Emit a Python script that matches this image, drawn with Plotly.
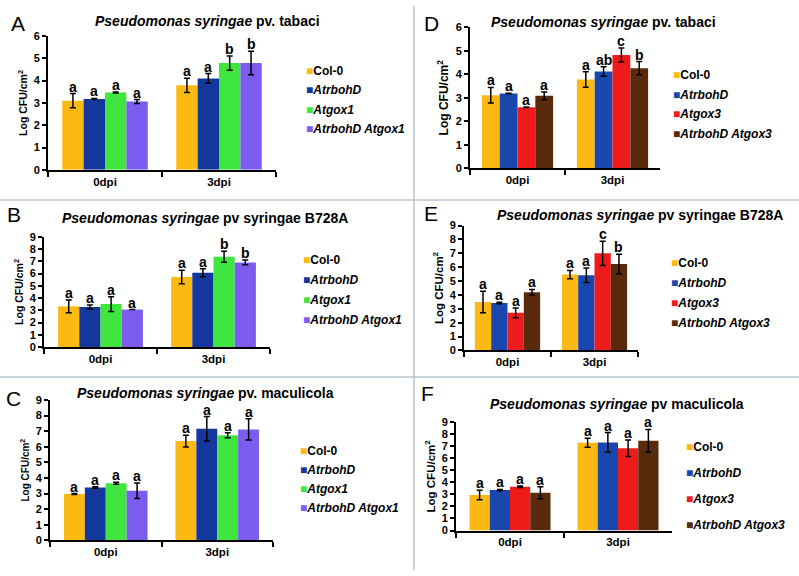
import plotly.graph_objects as go

W, H = 799, 576
FONT = "Liberation Sans, Arial, sans-serif"

categories = ["0dpi", "3dpi"]
gox1_lines = ["Col-0", "AtrbohD", "Atgox1", "AtrbohD Atgox1"]
gox3_lines = ["Col-0", "AtrbohD", "Atgox3", "AtrbohD Atgox3"]
gox1_colors = ["#FDB913", "#14379E", "#3FE63F", "#7B5CEF"]
gox3_colors = ["#FDB913", "#1A47AD", "#EE1B1B", "#5A2A0C"]

# rows = genotype, columns = [0dpi, 3dpi]
A_mean = [[3.10, 3.79], [3.18, 4.10], [3.47, 4.79], [3.06, 4.79]]
A_err = [[0.32, 0.32], [0.02, 0.22], [0.02, 0.32], [0.09, 0.53]]
A_letters = [["a", "a"], ["a", "a"], ["a", "b"], ["a", "b"]]

B_mean = [[3.32, 5.72], [3.27, 6.06], [3.51, 7.37], [3.06, 6.91]]
B_err = [[0.53, 0.55], [0.17, 0.33], [0.60, 0.44], [0.00, 0.20]]
B_letters = [["a", "a"], ["a", "a"], ["a", "b"], ["a", "b"]]

C_mean = [[2.97, 6.36], [3.39, 7.15], [3.66, 6.74], [3.18, 7.11]]
C_err = [[0.03, 0.37], [0.05, 0.78], [0.06, 0.16], [0.50, 0.68]]
C_letters = [["a", "a"], ["a", "a"], ["a", "a"], ["a", "a"]]

D_mean = [[3.11, 3.78], [3.18, 4.12], [2.60, 4.82], [3.08, 4.26]]
D_err = [[0.33, 0.33], [0.01, 0.20], [0.01, 0.30], [0.16, 0.28]]
D_letters = [["a", "a"], ["a", "ab"], ["a", "c"], ["a", "b"]]

E_mean = [[3.49, 5.47], [3.42, 5.42], [2.71, 7.00], [4.20, 6.23]]
E_err = [[0.77, 0.30], [0.05, 0.53], [0.35, 0.88], [0.20, 0.70]]
E_letters = [["a", "a"], ["a", "a"], ["a", "c"], ["a", "b"]]

F_mean = [[2.95, 7.29], [3.36, 7.32], [3.63, 6.83], [3.14, 7.45]]
F_err = [[0.40, 0.38], [0.05, 0.82], [0.06, 0.68], [0.50, 0.95]]
F_letters = [["a", "a"], ["a", "a"], ["a", "a"], ["a", "a"]]

titles = {
    "A": "<b><i>Pseudomonas syringae</i></b><b> pv. tabaci</b>",
    "B": "<b><i>Pseudomonas syringae</i></b><b> pv syringae B728A</b>",
    "C": "<b><i>Pseudomonas syringae</i></b><b> pv. maculicola</b>",
    "D": "<b><i>Pseudomonas syringae</i></b><b> pv. tabaci</b>",
    "E": "<b><i>Pseudomonas syringae</i></b><b> pv syringae B728A</b>",
    "F": "<b><i>Pseudomonas syringae</i></b><b> pv maculicola</b>",
}

BARGAP = 0.25

# layout in pixels: plot x0,x1, y of value 0, y of ymax, ymax,
# legend swatch-left x, first legend row y, row spacing,
# title centre, panel letter centre, y-title font size
panels = [
    dict(key="A", lines=gox1_lines, colors=gox1_colors, mean=A_mean, err=A_err, let=A_letters,
         x0=48, x1=276, yb=167.3, yt=30.7, ymax=6, leg=(308, 65, 19.3), tpos=(207, 15), lpos=(17.5, 16), yts=10.5),
    dict(key="B", lines=gox1_lines, colors=gox1_colors, mean=B_mean, err=B_err, let=B_letters,
         x0=44, x1=270, yb=348.3, yt=235.7, ymax=9, leg=(305, 258, 20), tpos=(205, 216), lpos=(13.5, 210.5), yts=10.5),
    dict(key="C", lines=gox1_lines, colors=gox1_colors, mean=C_mean, err=C_err, let=C_letters,
         x0=50, x1=273, yb=545.7, yt=402.3, ymax=9, leg=(302, 453, 16.7), tpos=(205, 395.5), lpos=(13.5, 399), yts=10),
    dict(key="D", lines=gox3_lines, colors=gox3_colors, mean=D_mean, err=D_err, let=D_letters,
         x0=470, x1=660, yb=165.7, yt=21.7, ymax=6, leg=(675, 69, 19.7), tpos=(603, 16), lpos=(431, 15.5), yts=12),
    dict(key="E", lines=gox3_lines, colors=gox3_colors, mean=E_mean, err=E_err, let=E_letters,
         x0=464, x1=638, yb=351.7, yt=224.3, ymax=9, leg=(673, 261, 20), tpos=(640, 213), lpos=(430.5, 210), yts=11.5),
    dict(key="F", lines=gox3_lines, colors=gox3_colors, mean=F_mean, err=F_err, let=F_letters,
         x0=456, x1=672, yb=535.7, yt=425, ymax=9, leg=(688, 449, 26), tpos=(617, 406), lpos=(427, 394), yts=11.5),
]


def px(x):
    return x / W


def py(y):
    return 1 - y / H


fig = go.Figure()
layout = dict(
    width=W, height=H, margin=dict(l=0, r=0, t=0, b=0),
    paper_bgcolor="white", plot_bgcolor="white",
    barmode="group", bargap=BARGAP, bargroupgap=0,
    font=dict(family=FONT, color="black", size=12),
    showlegend=True,
)
annotations = []
ITEM_H = 19

for n, p in enumerate(panels, start=1):
    ax = "" if n == 1 else str(n)
    xa, ya = "x" + ax, "y" + ax
    leg = "legend" if n == 1 else f"legend{n}"
    ymax = p["ymax"]
    layout["xaxis" + ax] = dict(
        domain=[px(p["x0"]), px(p["x1"])], anchor=ya, type="category",
        range=[-0.5, 1.5], showline=True, linecolor="black", linewidth=2,
        ticks="outside", tickson="boundaries", ticklen=5, tickwidth=1.5, tickcolor="black",
        tickfont=dict(size=11.5, weight="bold"), showgrid=False, fixedrange=True,
    )
    layout["yaxis" + ax] = dict(
        domain=[py(p["yb"]), py(p["yt"])], anchor=xa, range=[0, ymax], dtick=1,
        showline=True, linecolor="black", linewidth=2, ticks="outside", ticklen=4,
        tickwidth=1.5, tickcolor="black", tickfont=dict(size=11, weight="bold"),
        showgrid=False, zeroline=False, fixedrange=True,
        title=dict(text="<b>Log CFU/cm<sup>2</sup></b>", font=dict(size=p["yts"]), standoff=4),
    )
    lx, ly, lsp = p["leg"]
    layout[leg] = dict(
        x=px(lx - 42), y=py(ly - 14), xanchor="left", yanchor="top",
        bgcolor="rgba(0,0,0,0)", font=dict(size=12, family=FONT),
        tracegroupgap=max(lsp - ITEM_H, 0), itemclick=False, itemdoubleclick=False,
    )
    plot_w = p["x1"] - p["x0"]
    bw = (1 - BARGAP) * plot_w / 2 / 4
    for i, (name, col) in enumerate(zip(p["lines"], p["colors"])):
        fig.add_trace(go.Bar(
            x=categories, y=p["mean"][i], name=name, marker=dict(color=col, line=dict(width=0)),
            error_y=dict(type="data", array=p["err"][i], color="black", thickness=1.5, width=3),
            xaxis=xa, yaxis=ya, showlegend=False, legendgroup=f"{p['key']}{i}",
        ))
        label = f"<b>{name}</b>" if name == "Col-0" else f"<b><i>{name}</i></b>"
        fig.add_trace(go.Scatter(
            x=[None], y=[None], mode="markers",
            name=f"<span style='color:{col}'>■</span>" + label,
            marker=dict(color="rgba(0,0,0,0)", size=1),
            xaxis=xa, yaxis=ya, legend=leg, legendgroup=f"{p['key']}{i}",
            showlegend=True,
        ))
        for j, cat in enumerate(categories):
            annotations.append(dict(
                x=cat, y=p["mean"][i][j] + p["err"][i][j], xref=xa, yref=ya,
                text=f"<b>{p['let'][i][j]}</b>", showarrow=False, yanchor="bottom",
                xshift=(i - 1.5) * bw, yshift=-3, font=dict(size=14),
            ))
    tx, ty = p["tpos"]
    annotations.append(dict(x=px(tx), y=py(ty), xref="paper", yref="paper", text=titles[p["key"]],
                            showarrow=False, xanchor="center", yanchor="middle", font=dict(size=14)))
    lxp, lyp = p["lpos"]
    annotations.append(dict(x=px(lxp), y=py(lyp + 2), xref="paper", yref="paper", text=p["key"],
                            showarrow=False, xanchor="center", yanchor="middle", font=dict(size=21)))

layout["annotations"] = annotations
line_style = dict(color="#b9c5cc", width=1.5)
layout["shapes"] = [
    dict(type="line", xref="paper", yref="paper", x0=px(414), x1=px(414), y0=0, y1=1, line=line_style),
    dict(type="line", xref="paper", yref="paper", x0=0, x1=1, y0=py(198), y1=py(198), line=line_style),
    dict(type="line", xref="paper", yref="paper", x0=0, x1=1, y0=py(379), y1=py(379), line=line_style),
]
fig.update_layout(**layout)
fig.write_html(
    "out.html",
    config={"displayModeBar": False, "staticPlot": False},
    post_script="document.body.style.margin='0';document.body.style.overflow='hidden';",
)
